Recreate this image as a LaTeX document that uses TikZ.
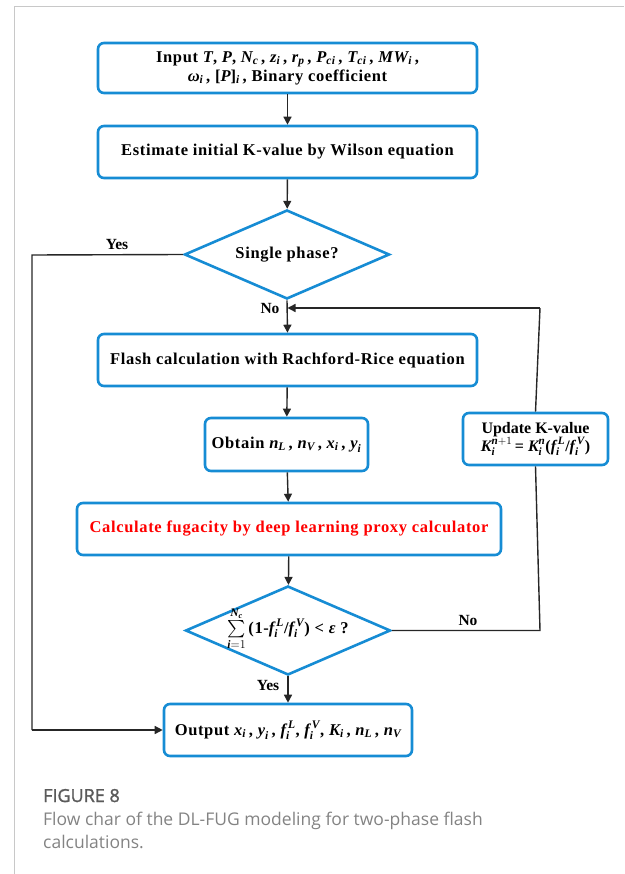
\documentclass[tikz,border=0pt]{standalone}
\usepackage{amsmath}
\usepackage{fontspec}
\setmainfont{Liberation Serif}
\newfontfamily\boxfont[LetterSpace=4]{Liberation Serif}
\newfontfamily\capfont{Open Sans}
\usetikzlibrary{shapes.geometric,arrows.meta}
\definecolor{boxblue}{RGB}{22,140,212}
\definecolor{capgray}{RGB}{100,100,100}
\definecolor{framegray}{RGB}{200,200,200}
\newcommand\bv[1]{\text{\bfseries\itshape #1}}
\newcommand\fil{\bv{f}_{\bv{i}}^{\mkern3mu\bv{L}}}
\newcommand\fiv{\bv{f}_{\bv{i}}^{\mkern3mu\bv{V}}}
\tikzset{
  flowbox/.style={draw=boxblue, line width=2.6pt, rounded corners=6pt, align=center, font=\boxfont\bfseries\fontsize{16.5}{20}\selectfont, inner sep=0pt},
  decision/.style={draw=boxblue, line width=2.6pt, diamond, inner sep=0pt, shape aspect=2.3, minimum width=205pt, minimum height=89pt},
  txt/.style={font=\boxfont\bfseries\fontsize{16.5}{20}\selectfont, inner sep=0pt, align=center},
  conn/.style={line width=1.4pt, draw=black!85},
  arr/.style={conn, -{Triangle[length=8pt,width=8pt]}},
  lab/.style={font=\bfseries\fontsize{15.5}{18}\selectfont, inner sep=0pt},
}
\begin{document}
\begin{tikzpicture}[x=1pt,y=-1pt]
\useasboundingbox (0,0) rectangle (624,874);
% frame
\draw[framegray, line width=1pt] (624,7) -- (14,7) -- (14,874);

\node[flowbox, minimum width=379pt, minimum height=50pt] (b1) at (287.5,68)
  {Input $\bv{T}$, $\bv{P}$, $\bv{N}_{\bv{c}}$\,, $\bv{z}_{\bv{i}}$\,, $\bv{r}_{\bv{p}}$\,, $\bv{P}_{\bv{ci}}$\,, $\bv{T}_{\bv{ci}}$\,, $\bv{MW}_{\bv{i}}$\,,\\[-1pt]
   $\bv{ω}_{\bv{i}}$\,, [$\bv{P}$]$_{\bv{i}}$\,, Binary coefficient};
\node[flowbox, minimum width=379pt, minimum height=52pt] (b2) at (287.5,152)
  {Estimate initial K-value by Wilson equation};
\node[decision] (d1) at (287,254.5) {};
\node[txt] (d1t) at (d1.center) {Single phase?};
\node[flowbox, minimum width=379pt, minimum height=52pt] (b3) at (287.5,360)
  {Flash calculation with Rachford-Rice equation};
\node[flowbox, minimum width=163pt, minimum height=53pt] (b4) at (286.5,444.5)
  {Obtain $\bv{n}_{\bv{L}}$\,, $\bv{n}_{\bv{V}}$\,, $\bv{x}_{\bv{i}}$\,, $\bv{y}_{\bv{i}}$};
\node[flowbox, minimum width=424pt, minimum height=52pt, text=red] (b5) at (289,529)
  {Calculate fugacity by deep learning proxy calculator};
\node[decision] (d2) at (288,630.5) {};
\node[txt] (d2t) at ([yshift=2pt]d2.center)
  {$\sum\limits_{\bv{i}=1}^{\bv{N}_{\bv{c}}}$\,(1-$\fil$/$\fiv$) < $\bv{ε}$ ?};
\node[flowbox, minimum width=248pt, minimum height=52pt] (b6) at (288,730)
  {Output $\bv{x}_{\bv{i}}$\,, $\bv{y}_{\bv{i}}$\,, $\fil$, $\fiv$, $\bv{K}_{\bv{i}}$\,, $\bv{n}_{\bv{L}}$\,, $\bv{n}_{\bv{V}}$};
\node[flowbox, minimum width=145pt, minimum height=52pt, font=\bfseries\fontsize{16}{19}\selectfont] (up) at (535.5,439)
  {Update K-value\\[-1pt] $\bv{K}_{\bv{i}}^{\bv{n}+1}$\,= $\bv{K}_{\bv{i}}^{\bv{n}}$($\fil$/$\fiv$)};

\coordinate (join) at (287.5,308);
\coordinate (ytop) at (32,255);
\coordinate (ybot) at (32,730);
\coordinate (rtop) at (540,308);
\coordinate (rbot) at (540,630.5);

\draw[arr] (b1) -- (b2);
\draw[arr] (b2) -- (d1);
\draw[arr] (d1.south) -- (b3.north);
\draw[arr] (b3) -- (b4);
\draw[arr] (b4) -- (b5);
\draw[arr] (b5) -- (d2);
\draw[arr] (d2.south) -- (b6.north);
\draw[conn] (d1.west) -- (ytop) -- (ybot);
\draw[arr] (ybot) -- (b6.west);
\draw[conn] (d2.east) -- (rbot) -- (up.south);
\draw[conn] (up.north) -- (rtop);
\draw[arr] (rtop) -- (join);

\node[lab] (yes1) at (117,245) {Yes};
\node[lab] (no1) at (270,309) {No};
\node[lab] (no2) at (468,620) {No};
\node[lab] (yes2) at (268,685) {Yes};

\node[anchor=base west, font=\capfont\fontsize{18}{22}\selectfont, text=capgray!90!black, inner sep=0pt] (cap1) at (43,802) {\addfontfeatures{FakeBold=1.5}FIGURE 8};
\node[anchor=base west, font=\capfont\fontsize{17.5}{23}\selectfont, text=capgray!80, inner sep=0pt, align=left] (cap2) at (43,825) {Flow char of the DL-FUG modeling for two-phase flash};
\node[anchor=base west, font=\capfont\fontsize{17.5}{23}\selectfont, text=capgray!80, inner sep=0pt, align=left] (cap3) at (43,848) {calculations.};
\end{tikzpicture}
\end{document}
